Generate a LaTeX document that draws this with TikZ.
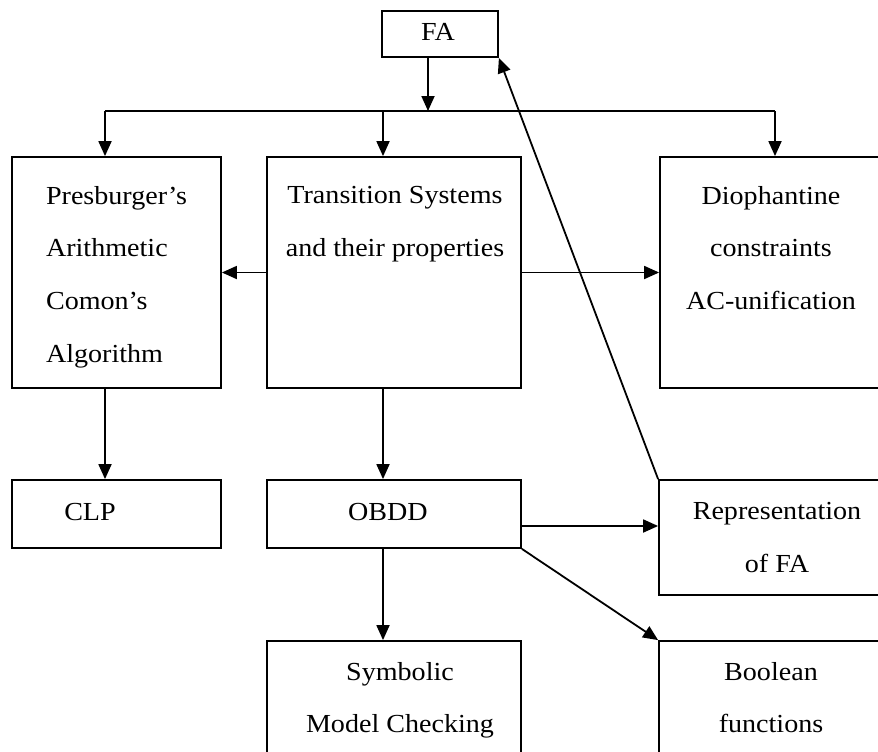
\documentclass[tikz,border=0pt]{standalone}
\usepackage{fontspec}
\setmainfont{Liberation Serif}[FakeStretch=1.08]
\usepackage{tikz}
\usetikzlibrary{arrows.meta}

\tikzset{
  blk/.style={draw, line width=1.8pt, inner sep=0pt},
  txt/.style={anchor=north, inner sep=0pt, align=center,
              font=\fontsize{26}{52.6}\selectfont},
  arr/.style={line width=1.8pt, -{Triangle[length=15pt, width=13pt]}}
}

\begin{document}
\begin{tikzpicture}[x=1pt, y=-1pt]
  \useasboundingbox (0,0) rectangle (878,752);
  \clip (0,0) rectangle (878,752);

  \node[blk, minimum width=116pt, minimum height=46pt] (fa) at (440,34) {};
  \node[blk, minimum width=209pt, minimum height=231pt] (pres) at (116.5,272.5) {};
  \node[blk, minimum width=254pt, minimum height=231pt] (trans) at (394,272.5) {};
  \node[blk, minimum width=222pt, minimum height=231pt] (dioph) at (771,272.5) {};
  \node[blk, minimum width=209pt, minimum height=68pt] (clp) at (116.5,514) {};
  \node[blk, minimum width=254pt, minimum height=68pt] (obdd) at (394,514) {};
  \node[blk, minimum width=222pt, minimum height=115pt] (repr) at (770,537.5) {};
  \node[blk, minimum width=254pt, minimum height=130pt] (symb) at (394,706) {};
  \node[blk, minimum width=222pt, minimum height=130pt] (bool) at (770,706) {};

  \node[txt] (faT) at ([xshift=-2pt, yshift=-13pt]fa.north) {FA};
  \node[txt, align=left] (presT) at ([yshift=-30pt]pres.north)
    {Presburger's\\Arithmetic\\Comon's\\Algorithm};
  \node[txt] (transT) at ([xshift=1pt, yshift=-30pt]trans.north)
    {Transition Systems\\and their properties};
  \node[txt] (diophT) at ([yshift=-30pt]dioph.north)
    {Diophantine\\constraints\\AC-unification};
  \node[txt] (clpT) at ([xshift=-26.5pt, yshift=-24pt]clp.north) {CLP};
  \node[txt] (obddT) at ([xshift=-6pt, yshift=-24pt]obdd.north) {OBDD};
  \node[txt] (reprT) at ([xshift=7pt, yshift=-23pt]repr.north)
    {Representation\\of FA};
  \node[txt] (symbT) at ([xshift=6pt, yshift=-22pt]symb.north)
    {Symbolic\\Model Checking};
  \node[txt] (boolT) at ([xshift=1pt, yshift=-22pt]bool.north)
    {Boolean\\functions};

  \coordinate (bus) at (428,111);
  \coordinate (busL) at (105,111);
  \coordinate (busM) at (383,111);
  \coordinate (busR) at (775,111);

  \draw[arr] (bus |- fa.south) -- (bus);
  \draw[line width=1.8pt] (busL) -- (busR);
  \draw[arr] (busL) -- (busL |- pres.north);
  \draw[arr] (busM) -- (busM |- trans.north);
  \draw[arr] (busR) -- (busR |- dioph.north);

  \draw[arr] (trans.west) -- (pres.east);
  \draw[arr] (trans.east) -- (dioph.west);
  \draw[arr] (busL |- pres.south) -- (busL |- clp.north);
  \draw[arr] (busM |- trans.south) -- (busM |- obdd.north);
  \draw[arr] (busM |- obdd.south) -- (busM |- symb.north);
  \draw[arr] ([yshift=-12pt]obdd.east) -- ([yshift=-12pt]obdd.east -| repr.west);
  \draw[arr] (obdd.south east) -- (bool.north west);
  \draw[arr] (repr.north west) -- (fa.south east);
\end{tikzpicture}
\end{document}
